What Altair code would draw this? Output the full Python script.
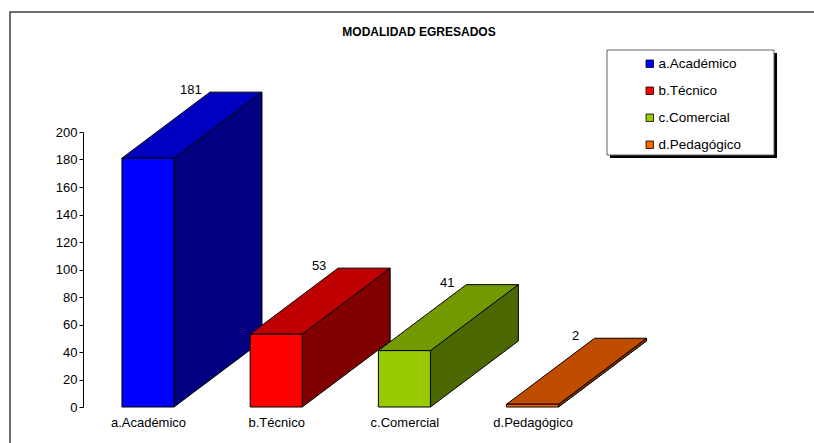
import json
import altair as alt
import pandas as pd

# ---- data ----
categorias = ["a.Académico", "b.Técnico", "c.Comercial", "d.Pedagógico"]
valores = [181, 53, 41, 2]

# ---- style ----
col_frente = ["#0000FF", "#FF0000", "#99CC00", "#FF6600"]
col_techo = ["#0000C0", "#C00000", "#739900", "#C04C00"]
col_lado = ["#000080", "#800000", "#4C6600", "#803300"]

HW = 0.203      # half width of the front face (category units)
DX = 0.686      # depth offset, x (category units)
DY = 48.0       # depth offset, y (value units)
FONT = "Liberation Sans"

# plot-area origin in page pixels
OX, OY = 83, 132
W, H = 720, 275

idx = list(range(len(categorias)))
front = pd.DataFrame({"cat": categorias, "idx": idx, "value": valores})
front["x0"] = front["idx"] - HW
front["x1"] = front["idx"] + HW
front["lx"] = front["idx"] - HW + DX
front["ly"] = front["value"] + DY

side_rows, top_rows = [], []
for c, i, v in zip(categorias, idx, valores):
    side_rows.append({"cat": c, "xs": i + HW, "ys": v, "ys2": 0})
    side_rows.append({"cat": c, "xs": i + HW + DX, "ys": v + DY, "ys2": DY})
    top_rows.append({"cat": c, "yt": v, "xa": i - HW, "xb": i + HW})
    top_rows.append({"cat": c, "yt": v + DY, "xa": i - HW + DX, "xb": i + HW + DX})
side = pd.DataFrame(side_rows)
top = pd.DataFrame(top_rows)

x_scale = alt.Scale(domain=[-65 / 128.2, -65 / 128.2 + W / 128.2], nice=False, zero=False)
y_scale = alt.Scale(domain=[0, 200], nice=False, zero=True)

x_axis = alt.Axis(
    values=idx, title=None, ticks=False, domain=False, grid=False,
    labelExpr=json.dumps(categorias) + "[datum.value]",
    labelFont=FONT, labelFontSize=13, labelColor="black", labelPadding=9,
)
y_axis = alt.Axis(
    values=list(range(0, 201, 20)), title=None, grid=False,
    domainColor="black", tickColor="black", tickSize=4,
    labelFont=FONT, labelFontSize=13, labelColor="black", labelPadding=2,
)

one = pd.DataFrame({"k": [0]})

border = alt.Chart(one).mark_rect(fill=None, stroke="#404040", strokeWidth=1.5).encode(
    x=alt.value(10 - OX), x2=alt.value(830 - OX),
    y=alt.value(12 - OY), y2=alt.value(460 - OY),
)
legend_shadow = alt.Chart(one).mark_rect(fill="black").encode(
    x=alt.value(610 - OX), x2=alt.value(777 - OX),
    y=alt.value(53 - OY), y2=alt.value(158 - OY),
)
legend_box = alt.Chart(one).mark_rect(fill="white", stroke="#606060", strokeWidth=1).encode(
    x=alt.value(607 - OX), x2=alt.value(774 - OX),
    y=alt.value(50 - OY), y2=alt.value(155 - OY),
)

sides = alt.Chart(side).mark_area(stroke="black", strokeWidth=1, opacity=1, interpolate="linear").encode(
    x=alt.X("xs:Q", scale=x_scale, axis=x_axis),
    y=alt.Y("ys:Q", scale=y_scale, axis=y_axis, stack=None),
    y2="ys2:Q",
    color=alt.Color("cat:N", scale=alt.Scale(domain=categorias, range=col_lado), legend=None),
)
tops = alt.Chart(top).mark_area(orient="horizontal", stroke="black", strokeWidth=1, opacity=1, interpolate="linear").encode(
    y=alt.Y("yt:Q", scale=y_scale, axis=y_axis),
    x=alt.X("xa:Q", scale=x_scale, axis=x_axis, stack=None),
    x2="xb:Q",
    color=alt.Color("cat:N", scale=alt.Scale(domain=categorias, range=col_techo), legend=None),
)
fronts = alt.Chart(front).mark_rect(stroke="black", strokeWidth=1).encode(
    x=alt.X("x0:Q", scale=x_scale, axis=x_axis),
    x2="x1:Q",
    y=alt.Y("value:Q", scale=y_scale, axis=y_axis),
    y2=alt.datum(0),
    color=alt.Color(
        "cat:N",
        scale=alt.Scale(domain=categorias, range=col_frente),
        legend=alt.Legend(
            title=None, orient="none", legendX=643 - OX, legendY=57 - OY,
            symbolType="square", symbolSize=56, symbolStrokeColor="black",
            symbolStrokeWidth=0.8, labelFont=FONT, labelFontSize=13.5,
            labelColor="black", labelOffset=2, rowPadding=12, padding=0,
            zindex=1,
        ),
    ),
)
labels = alt.Chart(front).mark_text(
    font=FONT, fontSize=13, color="black", align="center", baseline="middle", dx=-19, dy=-2
).encode(
    x=alt.X("lx:Q", scale=x_scale, axis=x_axis),
    y=alt.Y("ly:Q", scale=y_scale, axis=y_axis),
    text="value:Q",
)
title = alt.Chart(one).mark_text(
    text="MODALIDAD EGRESADOS", font=FONT, fontSize=12, fontWeight="bold",
    color="black", align="center", baseline="middle",
).encode(x=alt.value(419 - OX), y=alt.value(32 - OY))

chart = (
    alt.layer(border, legend_shadow, legend_box, sides, tops, fronts, labels, title)
    .resolve_scale(color="independent")
    .properties(
        width=W, height=H,
        padding={"left": OX, "top": OY, "right": 814 - OX - W, "bottom": 443 - OY - H},
        autosize=alt.AutoSizeParams(type="none"),
        background="white",
    )
    .configure_view(stroke=None)
)

chart.save("out.html", embed_options={"renderer": "svg", "actions": False})
